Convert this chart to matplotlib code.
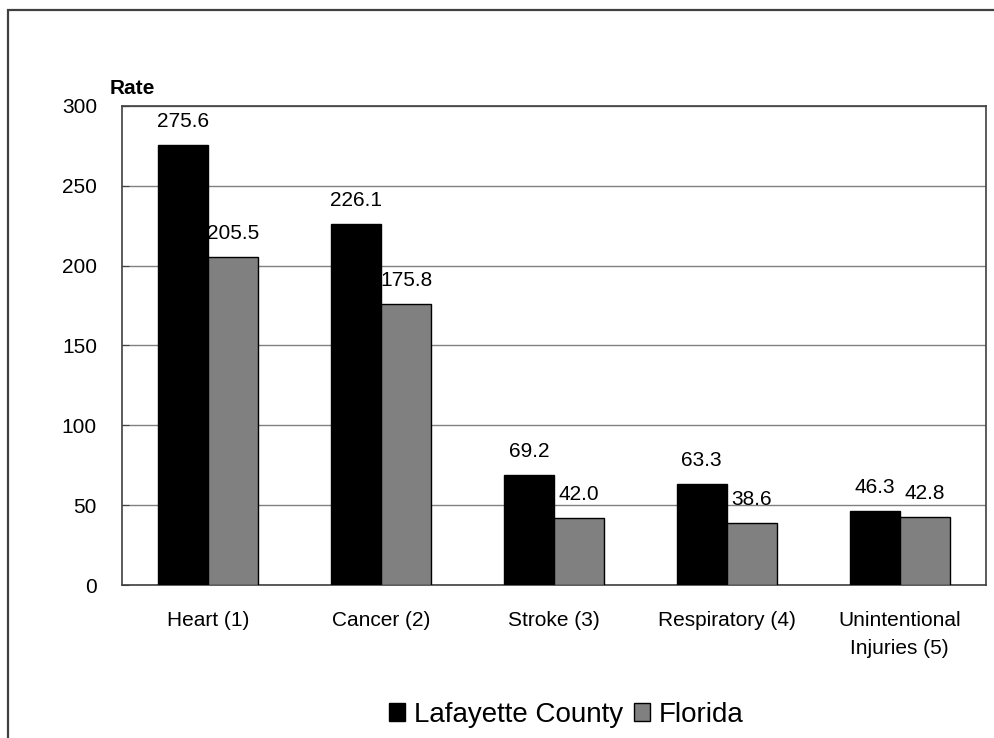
import numpy as np
import matplotlib
matplotlib.use("Agg")
import matplotlib.pyplot as plt
from matplotlib.patches import Rectangle

categories = ["Heart (1)", "Cancer (2)", "Stroke (3)", "Respiratory (4)", "Unintentional\nInjuries (5)"]
lafayette = [275.6, 226.1, 69.2, 63.3, 46.3]
florida = [205.5, 175.8, 42.0, 38.6, 42.8]
series_names = ["Lafayette County", "Florida"]

plt.rcParams['font.family'] = ['Liberation Sans', 'DejaVu Sans']

fig = plt.figure(figsize=(9.94, 7.38), dpi=100)
ax = fig.add_axes([0.1227, 0.2073, 0.8693, 0.6491])

# outer frame (only top and left edges fall inside the image)
fig.patches.append(Rectangle((8 / 994, -0.1), 1.2, 1.1 - 10 / 738, transform=fig.transFigure,
                             fill=False, edgecolor="#404040", linewidth=1.6))

x = np.arange(len(categories))
w = 0.29
b1 = ax.bar(x - w / 2, lafayette, w, color="black", edgecolor="black", linewidth=1, label=series_names[0], zorder=3)
b2 = ax.bar(x + w / 2, florida, w, color="#808080", edgecolor="black", linewidth=1, label=series_names[1], zorder=3)

ax.bar_label(b1, labels=[f"{v:.1f}" for v in lafayette], padding=10, fontsize=15)
ax.bar_label(b2, labels=[f"{v:.1f}" for v in florida], padding=10, fontsize=15)

ax.set_xlim(-0.5, len(categories) - 0.5)
ax.set_ylim(0, 300)
ax.set_yticks(range(0, 301, 50))
ax.set_xticks(x)
ax.set_xticklabels(categories, fontsize=15, linespacing=1.55)
ax.tick_params(axis="x", length=0, pad=19)
ax.tick_params(axis="y", direction="in", length=5, labelsize=15, pad=18, color="#404040")
ax.yaxis.grid(True, color="#808080", linewidth=1, zorder=0)
for s in ax.spines.values():
    s.set_color("#404040")
    s.set_linewidth(1.2)

fig.text(110 / 994, 1 - 89 / 738, "Rate", fontsize=15, fontweight="bold", va="center", ha="left")

fig.legend(handles=[b1, b2], loc="center", bbox_to_anchor=(566 / 994, 1 - 715 / 738), ncol=2,
           frameon=False, fontsize=20, handlelength=0.6, handleheight=0.6, handletextpad=0.3,
           columnspacing=0.4)

fig.savefig("out.png", dpi=100)
